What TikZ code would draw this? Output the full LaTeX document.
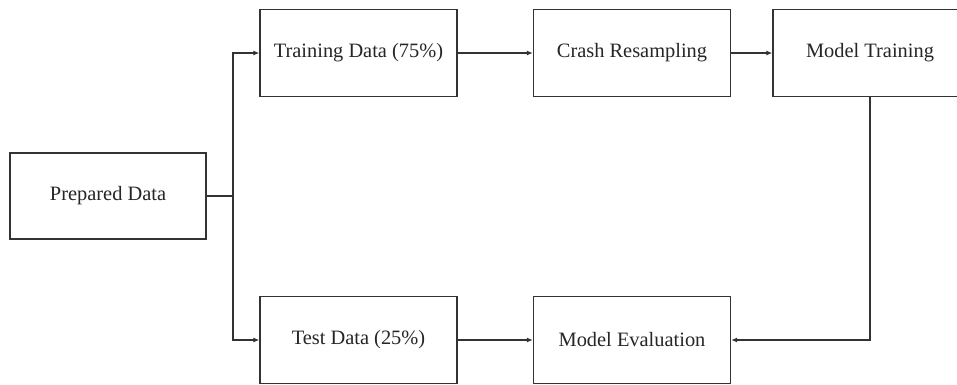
\documentclass[tikz,border=0pt]{standalone}
\usepackage{fontspec}
\setmainfont{Liberation Serif}
\usetikzlibrary{arrows.meta}
\begin{document}
\begin{tikzpicture}[x=1pt,y=-1pt,
  box/.style={draw=black!80, line width=1.3pt, fill=white, minimum width=197pt, minimum height=87pt, inner sep=0pt, font=\fontsize{20.4}{24}\selectfont, text=black!85},
  conn/.style={draw=black!80, line width=1.3pt},
  arr/.style={conn, -{Latex[length=6pt,width=5pt]}}]
\clip (0,0) rectangle (957,384);
\useasboundingbox (0,0) rectangle (957,384);
\node[box, minimum width=196pt, minimum height=86pt] (prep) at (108,196) {Prepared Data};
\node[box] (train) at (358.5,53) {Training Data (75\%)};
\node[box] (crash) at (632,53) {Crash Resampling};
\node[box, minimum width=194pt] (mt) at (870,53) {Model Training};
\node[box] (test) at (358.5,340) {Test Data (25\%)};
\node[box] (eval) at (632,340) {Model Evaluation};
\coordinate (j) at (233,196);
\draw[conn] (prep.east) -- (j);
\draw[arr] (j) |- (train.west);
\draw[arr] (j) |- (test.west);
\draw[arr] (train.east) -- (crash.west);
\draw[arr] (crash.east) -- (mt.west);
\draw[arr] (mt.south) |- (eval.east);
\draw[arr] (test.east) -- (eval.west);
\end{tikzpicture}
\end{document}
